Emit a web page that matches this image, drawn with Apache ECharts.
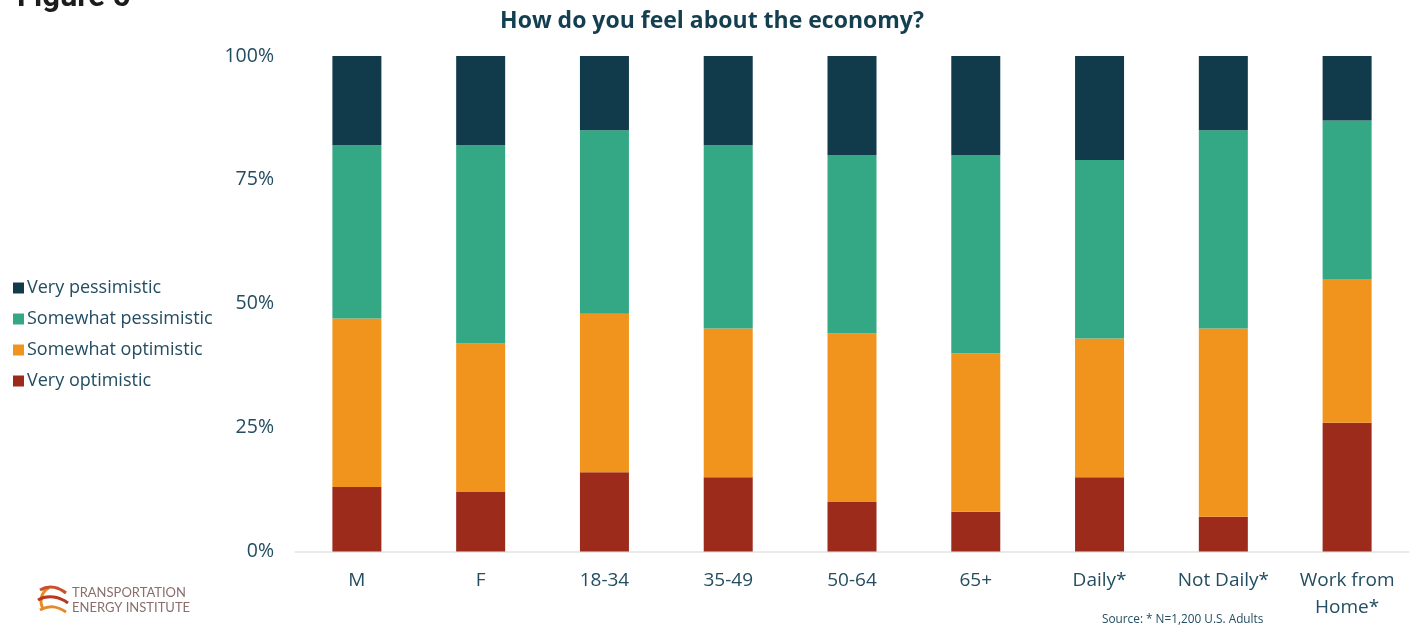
<!DOCTYPE html>
<html>
<head>
<meta charset="utf-8">
<script src="https://cdn.jsdelivr.net/npm/echarts@6/dist/echarts.min.js"></script>
<style>
  html, body { margin: 0; padding: 0; background: #ffffff; }
  #chart { width: 1416px; height: 634px; }
</style>
</head>
<body>
<div id="chart"></div>
<script>
// Survey groups along the x axis
const categories = ['M', 'F', '18-34', '35-49', '50-64', '65+', 'Daily*', 'Not Daily*', 'Work from\nHome*'];

// Share of respondents (%) per answer, per group
const veryOptimistic      = [13, 12, 16, 15, 10,  8, 15,  7, 26];
const somewhatOptimistic  = [34, 30, 32, 30, 34, 32, 28, 38, 29];
const somewhatPessimistic = [35, 40, 37, 37, 36, 40, 36, 40, 32];
const veryPessimistic     = [18, 18, 15, 18, 20, 20, 21, 15, 13];

const yTicks = [0, 25, 50, 75, 100];

const FONT = '"Open Sans", Lato, sans-serif';
const TEXT = '#234d61';

const chart = echarts.init(document.getElementById('chart'), null, { renderer: 'canvas' });

function bar(name, data, color) {
  return {
    name, type: 'bar', stack: 'total', data, barWidth: 49,
    itemStyle: { color }, emphasis: { disabled: true }
  };
}

chart.setOption({
  animation: false,
  backgroundColor: '#ffffff',
  title: {
    text: 'How do you feel about the economy?',
    left: 707, top: 5, textAlign: 'center',
    textStyle: { fontFamily: FONT, fontSize: 23, fontWeight: 'bold', color: '#133f51' }
  },
  legend: {
    orient: 'vertical', left: 8, top: 274,
    itemWidth: 11, itemHeight: 11, itemGap: 13,
    icon: 'rect',
    data: ['Very pessimistic', 'Somewhat pessimistic', 'Somewhat optimistic', 'Very optimistic'],
    textStyle: { fontFamily: FONT, fontSize: 18, color: TEXT, padding: [0, 0, 0, -2] }
  },
  grid: { left: 295, right: 7, top: 56, bottom: 82.5, containLabel: false },
  xAxis: {
    type: 'category', data: categories,
    axisLine: { lineStyle: { color: '#e3e3df', width: 1.5 } },
    axisTick: { show: false },
    axisLabel: {
      fontFamily: FONT, fontSize: 19, color: TEXT, margin: 16, lineHeight: 27,
      interval: 0
    }
  },
  yAxis: {
    type: 'value', min: yTicks[0], max: yTicks[yTicks.length - 1], interval: 25,
    axisLine: { show: false }, axisTick: { show: false },
    splitLine: { show: false },
    axisLabel: {
      fontFamily: FONT, fontSize: 19.5, color: TEXT, margin: 21,
      formatter: v => (yTicks.includes(v) ? v + '%' : '')
    }
  },
  series: [
    bar('Very optimistic', veryOptimistic, '#9d2b1b'),
    bar('Somewhat optimistic', somewhatOptimistic, '#f0941d'),
    bar('Somewhat pessimistic', somewhatPessimistic, '#34a784'),
    bar('Very pessimistic', veryPessimistic, '#113b4b')
  ],
  graphic: [
    {
      type: 'text', left: 17, top: -17,
      style: { text: 'Figure 5', fontFamily: 'Roboto, sans-serif', fontSize: 31, fontWeight: 'bold', fill: '#1c1c1c' }
    },
    // Institute logo: swirl strokes
    { type: 'arc', shape: { cx: 56, cy: 601, r: 15, startAngle: 2.6, endAngle: 4.2 }, style: { stroke: '#e88c2a', lineWidth: 3, fill: null } },
    { type: 'bezierCurve', shape: { x1: 40, y1: 590, x2: 66, y2: 593, cpx1: 50, cpy1: 584, cpx2: 60, cpy2: 588 }, style: { stroke: '#c9502a', lineWidth: 3, fill: null } },
    { type: 'bezierCurve', shape: { x1: 38, y1: 600, x2: 68, y2: 603, cpx1: 48, cpy1: 594, cpx2: 60, cpy2: 597 }, style: { stroke: '#b8391f', lineWidth: 3, fill: null } },
    { type: 'bezierCurve', shape: { x1: 40, y1: 610, x2: 66, y2: 612, cpx1: 50, cpy1: 604, cpx2: 58, cpy2: 607 }, style: { stroke: '#e58a2c', lineWidth: 3, fill: null } },
    {
      type: 'text', left: 72, top: 585,
      style: { text: 'TRANSPORTATION\nENERGY INSTITUTE', fontFamily: 'Lato, sans-serif', fontSize: 13, lineHeight: 15, fill: '#8a6e6c' }
    },
    {
      type: 'text', left: 1102, top: 614,
      style: { text: 'Source: * N=1,200 U.S. Adults', fontFamily: FONT, fontSize: 11.8, fill: TEXT }
    }
  ]
});
</script>
</body>
</html>
